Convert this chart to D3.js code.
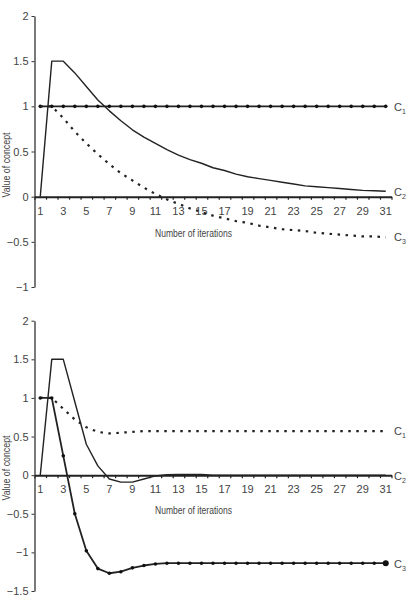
<!DOCTYPE html>
<html lang="en">
<head>
    <meta charset="UTF-8">
    <title>Value of concept vs iterations</title>
    <script src="https://d3js.org/d3.v7.min.js"></script>
    <style>
        body { margin: 0; background: #fff; }
        text { font-family: "Liberation Sans Narrow", "Liberation Sans", Arial, sans-serif; fill: #444; }
    </style>
</head>
<body>
<div id="chart"></div>
<script>
    // iterations on the x axis
    const iterations = [1,2,3,4,5,6,7,8,9,10,11,12,13,14,15,16,17,18,19,20,21,22,23,24,25,26,27,28,29,30,31];
    const xTickLabels = [1,3,5,7,9,11,13,15,17,19,21,23,25,27,29,31];

    // top panel
    const topTicks = [-1,-0.5,0,0.5,1,1.5,2];
    const topC1 = [1,1,1,1,1,1,1,1,1,1,1,1,1,1,1,1,1,1,1,1,1,1,1,1,1,1,1,1,1,1,1];
    const topC2 = [0,1.5,1.5,1.37,1.22,1.07,0.95,0.84,0.74,0.66,0.59,0.52,0.46,0.41,0.37,0.32,0.29,0.25,0.22,0.2,0.18,0.16,0.14,0.12,0.11,0.1,0.09,0.08,0.07,0.065,0.06];
    const topC3 = [1,1,0.87,0.72,0.59,0.47,0.36,0.26,0.18,0.1,0.03,-0.03,-0.08,-0.13,-0.17,-0.21,-0.24,-0.27,-0.29,-0.32,-0.34,-0.36,-0.37,-0.38,-0.4,-0.41,-0.42,-0.43,-0.44,-0.44,-0.45];

    // bottom panel
    const bottomTicks = [-1.5,-1,-0.5,0,0.5,1,1.5,2];
    const bottomC1 = [1,1,0.86,0.72,0.62,0.56,0.54,0.55,0.56,0.57,0.57,0.57,0.57,0.57,0.57,0.57,0.57,0.57,0.57,0.57,0.57,0.57,0.57,0.57,0.57,0.57,0.57,0.57,0.57,0.57,0.57];
    const bottomC2 = [0,1.5,1.5,0.95,0.4,0.12,-0.05,-0.09,-0.09,-0.05,-0.01,0.005,0.01,0.01,0.01,0,0,0,0,0,0,0,0,0,0,0,0,0,0,0,0];
    const bottomC3 = [1,1,0.25,-0.5,-0.98,-1.21,-1.27,-1.25,-1.2,-1.17,-1.15,-1.14,-1.14,-1.14,-1.14,-1.14,-1.14,-1.14,-1.14,-1.14,-1.14,-1.14,-1.14,-1.14,-1.14,-1.14,-1.14,-1.14,-1.14,-1.14,-1.14];

    const svg = d3.select("#chart").append("svg")
        .attr("width", 411)
        .attr("height", 596);

    const x = d3.scaleLinear().domain([0.5, 31.5]).range([34.5, 391.5]);
    const halfTicks = iterations.map(d => d - 0.5).concat([31.5]);

    function drawPanel(cfg) {
        const y = d3.scaleLinear().domain(cfg.domain).range(cfg.range);
        const g = svg.append("g");

        // y axis
        const yAxis = g.append("g")
            .attr("transform", "translate(34.5,0)")
            .call(d3.axisLeft(y).tickValues(cfg.ticks).tickSize(3).tickSizeOuter(0)
                .tickFormat(d => d < 0 ? "\u2212" + Math.abs(d) : d));
        yAxis.select(".domain").attr("stroke", "#333").attr("stroke-width", 1.3);
        yAxis.selectAll(".tick line").attr("stroke", "#333");
        yAxis.selectAll("text").attr("font-size", 11).attr("fill", "#444").attr("x", -6);

        // x axis at zero
        const y0 = y(0);
        const xAxis = g.append("g").attr("transform", `translate(0,${y0})`)
            .call(d3.axisBottom(x).tickValues(halfTicks).tickSize(3).tickSizeOuter(0).tickFormat(""));
        xAxis.select(".domain").attr("stroke", "#222").attr("stroke-width", 2);
        xAxis.selectAll(".tick line").attr("stroke", "#222").attr("stroke-width", 1.2);

        g.selectAll(".xlab").data(xTickLabels).enter().append("text")
            .attr("x", d => x(d)).attr("y", y0 + 18)
            .attr("text-anchor", "middle").attr("font-size", 11)
            .text(d => d);

        g.append("text").attr("x", 193.5).attr("y", y0 + cfg.xTitleDy)
            .attr("text-anchor", "middle").attr("font-size", 11)
            .attr("textLength", 77).attr("lengthAdjust", "spacingAndGlyphs")
            .text("Number of iterations");

        g.append("text")
            .attr("transform", `translate(10,${cfg.yTitleY}) rotate(-90)`)
            .attr("text-anchor", "middle").attr("font-size", 10.5)
            .attr("textLength", 65).attr("lengthAdjust", "spacingAndGlyphs")
            .text("Value of concept");

        const line = d3.line().x((d, i) => x(iterations[i])).y(d => y(d));

        cfg.series.forEach(s => {
            g.append("path").datum(s.values)
                .attr("d", line)
                .attr("fill", "none")
                .attr("stroke", "#222")
                .attr("stroke-linejoin", "round")
                .attr("stroke-width", s.dashed ? 2.2 : (s.markers ? 1.8 : 1.4))
                .attr("stroke-dasharray", s.dashed ? "2.5,5.5" : null);
            if (s.markers) {
                g.selectAll(null).data(s.values).enter().append("circle")
                    .attr("cx", (d, i) => x(iterations[i]))
                    .attr("cy", d => y(d))
                    .attr("r", (d, i) => (s.bigEnd && i === s.values.length - 1) ? 3 : 1.8)
                    .attr("fill", "#111");
            }
            const lab = g.append("text")
                .attr("x", 394).attr("y", y(s.values[s.values.length - 1]) + s.labelDy + 4)
                .attr("font-size", 11);
            lab.append("tspan").text("C");
            lab.append("tspan").attr("font-size", 7).attr("dy", 3).text(s.name);
        });
    }

    drawPanel({
        domain: [-1, 2], range: [287, 16], ticks: topTicks,
        xTitleDy: 40, yTitleY: 165,
        series: [
            { name: "1", values: topC1, markers: true, labelDy: 1 },
            { name: "2", values: topC2, labelDy: 1 },
            { name: "3", values: topC3, dashed: true, labelDy: 0 }
        ]
    });

    drawPanel({
        domain: [-1.5, 2], range: [591, 320.7], ticks: bottomTicks,
        xTitleDy: 39, yTitleY: 468,
        series: [
            { name: "1", values: bottomC1, dashed: true, labelDy: 0 },
            { name: "2", values: bottomC2, labelDy: 1 },
            { name: "3", values: bottomC3, markers: true, bigEnd: true, labelDy: 1 }
        ]
    });
</script>
</body>
</html>
